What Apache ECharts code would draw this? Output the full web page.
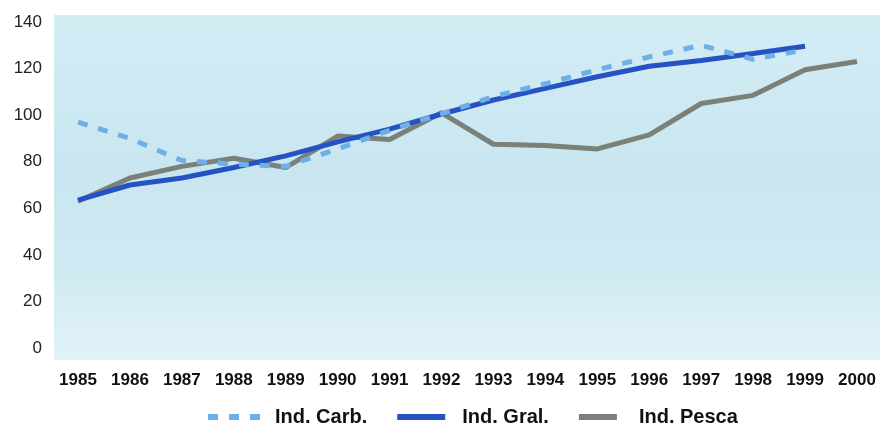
<!DOCTYPE html>
<html>
<head>
<meta charset="utf-8">
<script src="https://cdn.jsdelivr.net/npm/echarts@6/dist/echarts.min.js"></script>
<style>
  html, body { margin: 0; padding: 0; background: #fff; }
  #chart { width: 880px; height: 434px; }
</style>
</head>
<body>
<div id="chart"></div>
<script>
// datos
const years = ["1985", "1986", "1987", "1988", "1989", "1990", "1991", "1992",
  "1993", "1994", "1995", "1996", "1997", "1998", "1999", "2000"];
const indCarb = [97, 90, 80.5, 79, 78, 85.5, 93.5, 100.5, 108, 113.5, 119.5, 125, 130, 124, 128, null];
const indGral = [63.5, 70, 73, 77.5, 82.5, 88.5, 94, 100.5, 106.5, 111.5, 116.5, 121, 123.5, 126.5, 129.6, null];
const indPesca = [63, 73, 78, 81.5, 77.5, 91, 89.5, 101, 87.5, 87, 85.5, 91.5, 105, 108.5, 119.5, 123];
const yTicks = { min: 0, max: 140, interval: 20 };

const chart = echarts.init(document.getElementById("chart"));

const option = {
  animation: false,
  backgroundColor: "#fff",
  // fondo celeste del area
  graphic: [{
    type: "rect",
    z: -10,
    shape: { x: 54, y: 15, width: 826, height: 345 },
    style: {
      fill: new echarts.graphic.LinearGradient(0, 0, 0, 1, [
        { offset: 0, color: "#d3edf5" },
        { offset: 0.45, color: "#c9e6f0" },
        { offset: 0.75, color: "#d0eaf2" },
        { offset: 1, color: "#e2f3f8" }
      ])
    }
  }],
  grid: {
    left: 78,
    right: 23,
    top: 22,
    bottom: 86
  },
  legend: {
    left: 203,
    bottom: 2,
    itemWidth: 52,
    itemHeight: 6,
    itemGap: 30,
    data: [
      { name: "Ind. Carb.", icon: "path://M0,0h10v6h-10z M21,0h10v6h-10z M42,0h10v6h-10z" },
      { name: "Ind. Gral.", icon: "path://M0,0h48v6h-48z" },
      { name: "Ind. Pesca", icon: "path://M0,0h38v6h-38z" }
    ],
    textStyle: {
      fontFamily: "Liberation Sans",
      fontWeight: "bold",
      fontSize: 20,
      color: "#111",
      padding: [0, 0, 0, 10]
    }
  },
  xAxis: {
    type: "category",
    data: years,
    boundaryGap: false,
    axisLine: { show: false },
    axisTick: { show: false },
    axisLabel: {
      interval: 0,
      margin: 24,
      fontFamily: "Liberation Sans",
      fontWeight: "bold",
      fontSize: 17,
      color: "#111"
    }
  },
  yAxis: {
    type: "value",
    min: yTicks.min,
    max: yTicks.max,
    interval: yTicks.interval,
    axisLine: { show: false },
    axisTick: { show: false },
    splitLine: { show: false },
    axisLabel: {
      margin: 36,
      fontFamily: "Liberation Sans",
      fontSize: 17,
      color: "#222"
    }
  },
  series: [
    {
      name: "Ind. Pesca",
      type: "line",
      data: indPesca,
      symbol: "none",
      lineStyle: { color: "#7b8078", width: 5 },
      itemStyle: { color: "#7b8078" },
      z: 2
    },
    {
      name: "Ind. Gral.",
      type: "line",
      data: indGral,
      symbol: "none",
      lineStyle: { color: "#2553c4", width: 5 },
      itemStyle: { color: "#2553c4" },
      z: 3
    },
    {
      name: "Ind. Carb.",
      type: "line",
      data: indCarb,
      symbol: "none",
      lineStyle: { color: "#6eb0e6", width: 5, type: [10, 11] },
      itemStyle: { color: "#6eb0e6" },
      z: 4
    }
  ]
};

chart.setOption(option);
</script>
</body>
</html>
